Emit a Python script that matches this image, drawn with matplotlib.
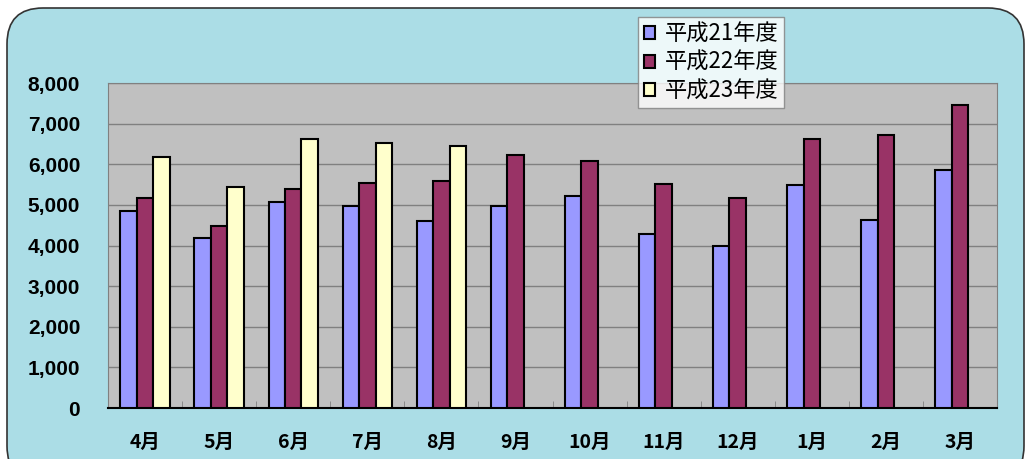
import matplotlib
matplotlib.use("Agg")
import matplotlib.pyplot as plt
import numpy as np
from matplotlib.patches import FancyBboxPatch

plt.rcParams['font.family'] = ['Noto Sans CJK JP', 'DejaVu Sans']

months = ["4月", "5月", "6月", "7月", "8月", "9月", "10月", "11月", "12月", "1月", "2月", "3月"]
series_names = ["平成21年度", "平成22年度", "平成23年度"]
h21 = [4850, 4190, 5080, 4980, 4600, 4980, 5230, 4280, 3980, 5500, 4640, 5850]
h22 = [5160, 4490, 5400, 5540, 5600, 6230, 6090, 5510, 5180, 6630, 6720, 7470]
h23 = [6170, 5450, 6620, 6530, 6460, np.nan, np.nan, np.nan, np.nan, np.nan, np.nan, np.nan]
yticks = [0, 1000, 2000, 3000, 4000, 5000, 6000, 7000, 8000]
ytick_labels = ["0", "1,000", "2,000", "3,000", "4,000", "5,000", "6,000", "7,000", "8,000"]
colors = ["#9999FF", "#993366", "#FFFFCC"]

fig = plt.figure(figsize=(10.29, 4.59), dpi=100)
fig.patch.set_facecolor("white")

# background frame
bg = FancyBboxPatch((7/1029, -0.05), 1 - 12/1029, 1 - 8/459 + 0.05,
                    boxstyle="round,pad=0,rounding_size=0.035",
                    transform=fig.transFigure, facecolor="#ABDDE6",
                    edgecolor="#333333", linewidth=1.2, zorder=-5,
                    mutation_aspect=1029/459)
fig.patches.append(bg)

ax = fig.add_axes([108/1029, 51/459, 889/1029, 325/459])
ax.set_zorder(1)
ax.set_facecolor("#C0C0C0")

x = np.arange(len(months))
w = 0.222
for i, (vals, c, name) in enumerate(zip([h21, h22, h23], colors, series_names)):
    ax.bar(x + (i - 1) * w, vals, width=w, color=c, edgecolor="black",
           linewidth=1.5, label=name, zorder=3)

ax.set_xlim(-0.5, len(months) - 0.5)
ax.set_ylim(0, 8000)
ax.set_yticks(yticks)
ax.set_yticklabels(ytick_labels, fontsize=15, fontweight="bold")
ax.tick_params(axis="y", length=0, pad=20, labelfontfamily="Liberation Sans")
ax.set_xticks(x)
ax.set_xticklabels(months, fontsize=14, fontweight="bold")
ax.tick_params(axis="x", length=0, pad=18)
ax.set_xticks(np.arange(-0.5, len(months), 1), minor=True)
ax.tick_params(axis="x", which="minor", direction="in", length=5, color="#808080")
ax.yaxis.grid(True, color="#808080", linewidth=1, zorder=1)
ax.set_axisbelow(True)
for s in ["top", "right", "left"]:
    ax.spines[s].set_color("#808080")
ax.spines["bottom"].set_color("black")
ax.spines["bottom"].set_linewidth(1.5)

leg = ax.legend(loc="upper left", bbox_to_anchor=(530/889, 1 + 66/325),
                prop={"size": 16}, frameon=True, fancybox=False, edgecolor="#808080",
                handlelength=0.5, handleheight=0.5, handletextpad=0.45,
                borderpad=0.25, labelspacing=0.25, borderaxespad=0)
leg.get_frame().set_linewidth(1)
leg.set_zorder(10)

fig.savefig("out.png", dpi=100)
